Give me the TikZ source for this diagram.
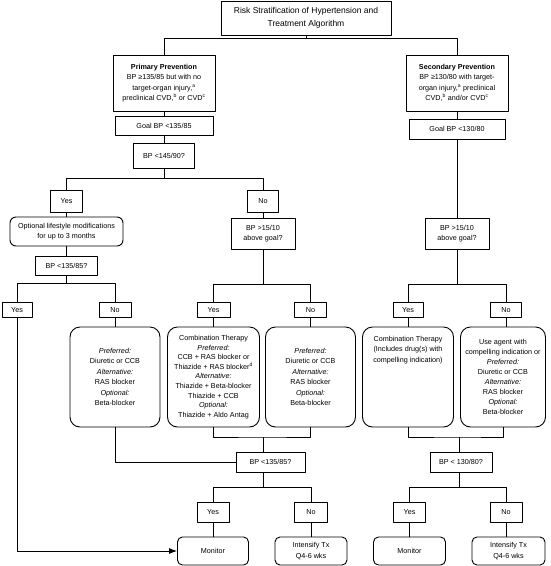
\documentclass[tikz,border=0pt]{standalone}
\usepackage{fontspec}
\setmainfont{Liberation Sans}
\usetikzlibrary{arrows.meta}
\begin{document}
\begin{tikzpicture}[x=1pt, y=-1pt, font=\fontsize{7.2}{10.4}\selectfont, line join=round, line width=0.9pt,
    >={Latex[length=8pt,width=6pt]},
    box/.style={draw, align=center, inner sep=1pt},
    rbox/.style={box, rounded corners=10pt},
    sbox/.style={box, rounded corners=5pt}]
    \useasboundingbox (0,0) rectangle (551,566);
    % top of the tree
    \node[box, minimum width=170, minimum height=34, font=\fontsize{8.5}{13}\selectfont] (title) at (306,18) {Risk Stratification of Hypertension and\\Treatment Algorithm};
    \node[box, minimum width=102, minimum height=56] (prim) at (164,83) {\textbf{Primary Prevention}\\BP ≥135/85 but with no\\target-organ injury,\textsuperscript{a}\\preclinical CVD,\textsuperscript{b} or CVD\textsuperscript{c}};
    \node[box, minimum width=102, minimum height=56] (sec) at (457,83) {\textbf{Secondary Prevention}\\BP ≥130/80 with target-\\organ injury,\textsuperscript{a} preclinical\\CVD,\textsuperscript{b} and/or CVD\textsuperscript{c}};
    \node[box, minimum width=98, minimum height=19] (goal1) at (164,125.5) {Goal BP <135/85};
    \node[box, minimum width=96, minimum height=20] (goal2) at (457,129) {Goal BP <130/80};
    \node[box, minimum width=61, minimum height=25] (q1) at (164,155.5) {BP <145/90?};
    % primary prevention branch
    \node[box, minimum width=32, minimum height=22] (yes1) at (66.5,201) {Yes};
    \node[box, minimum width=31, minimum height=22] (no1) at (263,201) {No};
    \node[sbox, minimum width=113, minimum height=29, rounded corners=6pt] (life) at (66.5,231.5) {Optional lifestyle modifications\\for up to 3 months};
    \node[box, minimum width=62, minimum height=19] (q2) at (66.5,265.5) {BP <135/85?};
    \node[box, minimum width=64, minimum height=31] (q3) at (263,233.5) {BP >15/10\\above goal?};
    \node[box, minimum width=64, minimum height=31] (q4) at (457,233.5) {BP >15/10\\above goal?};
    \node[box, minimum width=30, minimum height=15] (yes2) at (17,310) {Yes};
    \node[box, minimum width=32, minimum height=15] (no2) at (115,310) {No};
    \node[box, minimum width=33, minimum height=15] (yes3) at (213.5,310) {Yes};
    \node[box, minimum width=32, minimum height=15] (no3) at (310.5,310) {No};
    \node[box, minimum width=30, minimum height=15] (yes4) at (408,310) {Yes};
    \node[box, minimum width=31, minimum height=15] (no4) at (506,310) {No};
    % drug boxes
    \node[rbox, minimum width=90, minimum height=100] (pref1) at (115,377) {\textit{Preferred:}\\Diuretic or CCB\\\textit{Alternative:}\\RAS blocker\\\textit{Optional:}\\Beta-blocker};
    \node[rbox, minimum width=92, minimum height=100, font=\fontsize{7.2}{9.6}\selectfont] (combo) at (213.5,377) {Combination Therapy\\\textit{Preferred:}\\CCB + RAS blocker or\\Thiazide + RAS blocker\textsuperscript{d}\\\textit{Alternative:}\\Thiazide + Beta-blocker\\Thiazide + CCB\\\textit{Optional:}\\Thiazide + Aldo Antag};
    \node[rbox, minimum width=90, minimum height=100] (pref2) at (310.5,377) {\textit{Preferred:}\\Diuretic or CCB\\\textit{Alternative:}\\RAS blocker\\\textit{Optional:}\\Beta-blocker};
    \node[rbox, minimum width=91, minimum height=100] (combo2) at (408,377) {};
    \node[align=center, inner sep=0pt, anchor=north] (combo2txt) at ([yshift=-9pt]combo2.north) {Combination Therapy\\(Includes drug(s) with\\compelling indication)};
    \node[rbox, minimum width=85, minimum height=100, font=\fontsize{7.2}{9.9}\selectfont] (agent) at (503,377) {Use agent with\\compelling indication or\\\textit{Preferred:}\\Diuretic or CCB\\\textit{Alternative:}\\RAS blocker\\\textit{Optional:}\\Beta-blocker};
    % bottom of the tree
    \node[box, minimum width=69, minimum height=20] (q5) at (270.5,462) {BP <135/85?};
    \node[box, minimum width=62, minimum height=20] (q6) at (461,462) {BP < 130/80?};
    \node[box, minimum width=32, minimum height=20] (yes5) at (213,512) {Yes};
    \node[box, minimum width=33, minimum height=20] (no5) at (311,512) {No};
    \node[box, minimum width=32, minimum height=20] (yes6) at (409.5,512) {Yes};
    \node[box, minimum width=32, minimum height=20] (no6) at (506,512) {No};
    \node[sbox, minimum width=71, minimum height=28] (mon1) at (213,551) {Monitor};
    \node[sbox, minimum width=72, minimum height=28] (int1) at (311,551) {Intensify Tx\\Q4-6 wks};
    \node[sbox, minimum width=72, minimum height=28] (mon2) at (409.5,551) {Monitor};
    \node[sbox, minimum width=73, minimum height=28] (int2) at (508.5,551) {Intensify Tx\\Q4-6 wks};
    % connectors
    \draw (title.south) -- ++(0,3) coordinate (t0) -| (prim.north);
    \draw (t0) -| (sec.north);
    \draw (prim) -- (goal1) -- (q1);
    \draw (sec) -- (goal2) -- (q4);
    \draw (q1.south) -- ++(0,10) coordinate (s1);
    \draw (yes1.north) |- (s1) -| (no1.north);
    \draw (yes1) -- (life) -- (q2);
    \draw (q2.south) -- ++(0,8) coordinate (s2);
    \draw (yes2.north) |- (s2) -| (no2.north);
    \draw (no1) -- (q3);
    \draw (q3.south) -- ++(0,35) coordinate (s3);
    \draw (yes3.north) |- (s3) -| (no3.north);
    \draw (q4.south) -- ++(0,35) coordinate (s4);
    \draw (yes4.north) |- (s4) -| (no4.north);
    \draw (no2) -- (pref1);
    \draw (yes3) -- (combo);
    \draw (no3) -- (pref2);
    \draw (yes4) -- (combo2);
    \draw (no4.south) -- (no4.south |- agent.north);
    \coordinate (j1) at (263,437);
    \coordinate (j2) at (459,437);
    \draw (combo.south) |- (j1) -| (pref2.south);
    \draw (j1) -- (j1 |- q5.north);
    \draw (pref1.south) |- (q5.west);
    \draw (combo2.south) |- (j2) -| (agent.south);
    \draw (j2) -- (j2 |- q6.north);
    \draw (j1 |- q5.south) -- ++(0,15) coordinate (s5);
    \draw (yes5.north) |- (s5) -| (no5.north);
    \draw (j2 |- q6.south) -- ++(0,15) coordinate (s6);
    \draw (yes6.north) |- (s6) -| (no6.north);
    \draw (yes5) -- (mon1);
    \draw (no5) -- (int1);
    \draw (yes6) -- (mon2);
    \draw (no6.south) -- (no6.south |- int2.north);
    \draw[->] (yes2.south) |- (mon1.west);
\end{tikzpicture}
\end{document}
